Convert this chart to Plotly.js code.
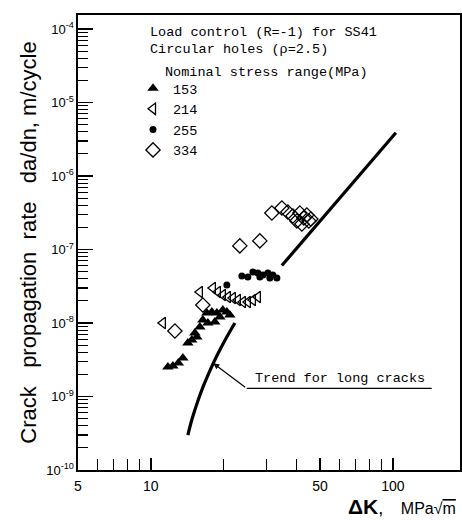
<!DOCTYPE html>
<html>
<head>
<meta charset="utf-8">
<script src="https://cdn.plot.ly/plotly-3.0.1.min.js"></script>
<style>html,body{margin:0;padding:0;background:#fff;}</style>
</head>
<body>
<div id="chart" style="width:462px;height:520px;"></div>
<script>
// Nominal stress range 153 MPa (filled triangles)
const dK_153   = [11.76, 12.33, 12.99, 13.56, 14.22, 14.77, 15.20, 15.49, 15.94, 16.40, 17.04, 17.20, 17.87, 18.38, 18.74, 19.28, 19.84, 20.61, 21.20];
const rate_153 = [2.52e-9, 2.60e-9, 2.86e-9, 3.34e-9, 5.34e-9, 5.87e-9, 7.31e-9, 6.45e-9, 8.82e-9, 1.10e-8, 1.37e-8, 1.00e-8, 1.41e-8, 1.03e-8, 1.37e-8, 1.21e-8, 1.50e-8, 1.41e-8, 1.28e-8];
// 214 MPa (open left triangles)
const dK_214   = [11.21, 15.94, 18.04, 18.92, 19.84, 20.80, 21.82, 22.88, 24.00, 25.17, 26.40, 27.68];
const rate_214 = [1.00e-8, 2.64e-8, 2.99e-8, 2.64e-8, 2.40e-8, 2.26e-8, 2.19e-8, 2.06e-8, 1.93e-8, 1.93e-8, 2.06e-8, 2.26e-8];
// 255 MPa (filled dots)
const dK_255   = [20.61, 23.77, 25.17, 26.40, 27.68, 28.21, 29.03, 30.44, 31.02, 31.92, 33.17];
const rate_255 = [3.29e-8, 4.36e-8, 4.22e-8, 4.94e-8, 4.79e-8, 4.22e-8, 4.50e-8, 4.79e-8, 4.09e-8, 4.50e-8, 4.09e-8];
// 334 MPa (open diamonds)
const dK_334   = [12.57, 16.40, 23.32, 28.21, 31.62, 34.78, 36.82, 38.63, 40.12, 41.28, 42.87, 44.11, 44.96, 42.07, 45.83];
const rate_334 = [7.78e-9, 1.76e-8, 1.12e-7, 1.31e-7, 3.14e-7, 3.67e-7, 3.24e-7, 2.86e-7, 2.44e-7, 3.14e-7, 2.68e-7, 2.95e-7, 2.44e-7, 2.22e-7, 2.60e-7];
// Trend for long cracks: straight part and threshold curve
const dK_trendLine   = [34.78, 102.9];
const rate_trendLine = [6.05e-8, 3.88e-6];
const dK_trendCurve   = [14.22, 14.80, 15.54, 16.43, 17.51, 18.81, 20.38, 22.24];
const rate_trendCurve = [2.99e-10, 4.94e-10, 8.16e-10, 1.35e-9, 2.22e-9, 3.67e-9, 6.06e-9, 1.0e-8];
// Tick labels
const xTickVals = [5, 10, 50, 100];
const xTickText = ['5', '10', '50', '100'];
const yTickVals = [1e-4, 1e-5, 1e-6, 1e-7, 1e-8, 1e-9, 1e-10];
const yTickText = ['10<sup>-4</sup>', '10<sup>-5</sup>', '10<sup>-6</sup>', '10<sup>-7</sup>', '10<sup>-8</sup>', '10<sup>-9</sup>', '10<sup>-10</sup>'];
const seriesNames = ['153', '214', '255', '334'];

const NB = '\u00a0';
const mono = 'Liberation Mono, DejaVu Sans Mono, monospace';

const traces = [
  {x: dK_153, y: rate_153, name: seriesNames[0], type: 'scatter', mode: 'markers',
   marker: {symbol: 'triangle-up', size: 10, color: '#000'}},
  {x: dK_214, y: rate_214, name: seriesNames[1], type: 'scatter', mode: 'markers',
   marker: {symbol: 'triangle-left-open', size: 10, color: '#000', line: {width: 1.3, color: '#000'}}},
  {x: dK_255, y: rate_255, name: seriesNames[2], type: 'scatter', mode: 'markers',
   marker: {symbol: 'circle', size: 7, color: '#000'}},
  {x: dK_334, y: rate_334, name: seriesNames[3], type: 'scatter', mode: 'markers',
   marker: {symbol: 'diamond-open', size: 11, color: '#000', line: {width: 1.3, color: '#000'}}},
  {x: dK_trendLine, y: rate_trendLine, type: 'scatter', mode: 'lines', showlegend: false,
   line: {color: '#000', width: 3.2}, hoverinfo: 'skip'},
  {x: dK_trendCurve, y: rate_trendCurve, type: 'scatter', mode: 'lines', showlegend: false,
   line: {color: '#000', width: 3.2, shape: 'spline'}, hoverinfo: 'skip'}
];

const W = 382, H = 455, L = 78, T = 15;
const px = v => (v - L) / W;
const py = v => (T + H - v) / H;

const layout = {
  width: 462, height: 520,
  margin: {l: L, r: 2, t: T, b: 50},
  paper_bgcolor: '#fff', plot_bgcolor: '#fff',
  font: {family: 'Liberation Sans, Arial, sans-serif', color: '#000', size: 13},
  showlegend: true,
  xaxis: {
    type: 'log', range: [Math.log10(5), Math.log10(5) + W / 242],
    tickmode: 'array', tickvals: xTickVals, ticktext: xTickText,
    ticks: 'inside', ticklen: 12, tickwidth: 1.3, tickcolor: '#000',
    minor: {dtick: 'D1', ticks: 'inside', ticklen: 11, tickwidth: 1.3, tickcolor: '#000', showgrid: false},
    showline: true, linewidth: 1.6, linecolor: '#000', mirror: true,
    showgrid: false, zeroline: false,
    tickfont: {size: 14, color: '#000'}, ticklabelstandoff: 3
  },
  yaxis: {
    type: 'log', range: [-10, -10 + H / 73.5],
    tickmode: 'array', tickvals: yTickVals, ticktext: yTickText,
    ticks: 'inside', ticklen: 15, tickwidth: 1.3, tickcolor: '#000',
    minor: {dtick: 'D1', ticks: 'inside', ticklen: 10, tickwidth: 1.2, tickcolor: '#000', showgrid: false},
    showline: true, linewidth: 1.6, linecolor: '#000', mirror: true,
    showgrid: false, zeroline: false,
    tickfont: {size: 13, color: '#000'},
    title: {text: 'Crack' + NB+NB+NB + 'propagation' + NB+NB + 'rate' + NB+NB+NB + 'da/dn,' + NB + 'm/cycle',
            font: {size: 22, family: 'Liberation Sans, Arial, sans-serif', color: '#000'}, standoff: 3}
  },
  legend: {
    x: px(133), y: py(73), xanchor: 'left', yanchor: 'top',
    font: {family: mono, size: 13.5, color: '#000'},
    bgcolor: 'rgba(0,0,0,0)', borderwidth: 0
  },
  annotations: [
    {xref: 'paper', yref: 'paper', x: px(148), y: py(33), xanchor: 'left', yanchor: 'middle', showarrow: false,
     text: 'Load control (R=-1) for SS41', font: {family: mono, size: 13.5, color: '#000'}},
    {xref: 'paper', yref: 'paper', x: px(148), y: py(50), xanchor: 'left', yanchor: 'middle', showarrow: false,
     text: 'Circular holes (ρ=2.5)', font: {family: mono, size: 13.5, color: '#000'}},
    {xref: 'paper', yref: 'paper', x: px(163), y: py(72), xanchor: 'left', yanchor: 'middle', showarrow: false,
     text: 'Nominal stress range(MPa)', font: {family: mono, size: 13.5, color: '#000'}},
    {xref: 'paper', yref: 'paper', x: px(253), y: py(378), xanchor: 'left', yanchor: 'middle', showarrow: false,
     text: 'Trend for long cracks', font: {family: mono, size: 13.5, color: '#000'}},
    {xref: 'paper', yref: 'paper', x: px(213.3), y: py(363.3), text: '', showarrow: true,
     ax: 33.4, ay: 25, arrowhead: 2, arrowsize: 1, arrowwidth: 1.2, arrowcolor: '#000'},
    {xref: 'paper', yref: 'paper', x: px(458), y: py(507), xanchor: 'right', yanchor: 'middle', showarrow: false,
     text: '<b>ΔK</b><span style="font-size:18px">,</span>' + NB+NB+NB + '<span style="font-size:16px">MPa√<span style="text-decoration:overline">m</span></span>',
     font: {family: 'Liberation Sans, Arial, sans-serif', size: 21, color: '#000'}}
  ],
  shapes: [
    {type: 'line', xref: 'paper', yref: 'paper', x0: px(246.7), x1: px(431.7), y0: py(388.3), y1: py(388.3),
     line: {color: '#000', width: 1.2}}
  ]
};

Plotly.newPlot('chart', traces, layout, {staticPlot: true, displayModeBar: false});
</script>
</body>
</html>
